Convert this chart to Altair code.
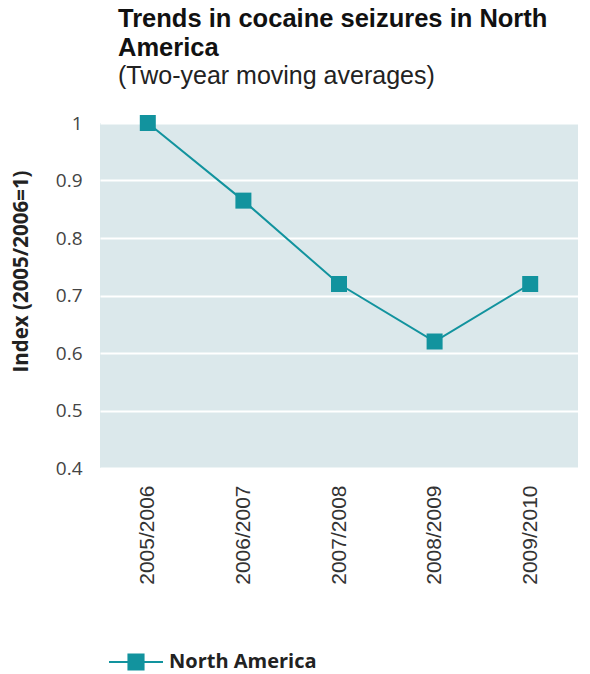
import altair as alt
import pandas as pd

# Two-year periods and the seizure index (2005/2006 = 1)
periods = ["2005/2006", "2006/2007", "2007/2008", "2008/2009", "2009/2010"]
index_values = [1.0, 0.865, 0.72, 0.62, 0.72]
series_name = ["North America"] * len(periods)

y_ticks = [0.4, 0.5, 0.6, 0.7, 0.8, 0.9, 1.0]

df = pd.DataFrame({"period": periods, "index": index_values, "region": series_name})

teal = "#12939e"

# legend glyph: a short line with a square in the middle
legend_glyph = "M-1,0H-0.28M0.28,0H1M-0.28,-0.28H0.28V0.28H-0.28Z"

x_enc = alt.X(
    "period:N",
    sort=periods,
    scale=alt.Scale(type="point", padding=0.5),
    axis=alt.Axis(
        title=None,
        labelAngle=270,
        labelAlign="right",
        labelBaseline="middle",
        labelPadding=17,
        labelFont="Liberation Sans",
        labelFontSize=21,
        labelColor="#333333",
        domain=False,
        ticks=False,
        grid=False,
    ),
)

y_enc = alt.Y(
    "index:Q",
    scale=alt.Scale(domain=[0.4, 1.0], nice=False, zero=False),
    axis=alt.Axis(
        title="Index (2005/2006=1)",
        titleFont="Open Sans",
        titleFontSize=20.5,
        titleFontWeight="bold",
        titleColor="#222222",
        titlePadding=24,
        titleY=148,
        values=y_ticks,
        labelExpr="format(datum.value, '')",
        labelFont="Open Sans",
        labelFontSize=19,
        labelColor="#444444",
        labelPadding=18,
        domain=False,
        ticks=False,
        grid=True,
        gridColor="#ffffff",
        gridWidth=2,
    ),
)

color_enc = alt.Color(
    "region:N",
    scale=alt.Scale(range=[teal]),
    legend=alt.Legend(
        title=None,
        orient="none",
        legendX=8,
        legendY=511,
        symbolType=legend_glyph,
        symbolSize=2916,
        symbolStrokeWidth=2,
        symbolFillColor=teal,
        symbolStrokeColor=teal,
        labelFont="Open Sans",
        labelFontSize=20,
        labelFontWeight="bold",
        labelColor="#222222",
        labelOffset=5,
    ),
)

base = alt.Chart(df).encode(x=x_enc, y=y_enc, color=color_enc)

line = base.mark_line(strokeWidth=2)
points = base.mark_point(shape="square", filled=True, size=256, opacity=1)

chart = (
    alt.layer(line, points)
    .properties(
        width=478,
        height=345,
        autosize=alt.AutoSizeParams(type="none"),
        padding={"left": 100, "top": 123, "right": 12, "bottom": 206},
        title=alt.TitleParams(
            text=["Trends in cocaine seizures in North", "America"],
            subtitle="(Two-year moving averages)",
            anchor="start",
            frame="group",
            dx=18,
            offset=25,
            font="Liberation Sans",
            fontSize=25.5,
            fontWeight="bold",
            color="#111111",
            lineHeight=29,
            subtitleFont="Liberation Sans",
            subtitleFontSize=25,
            subtitleColor="#222222",
            subtitlePadding=3,
        ),
    )
    .configure_view(fill="#dbe8eb", stroke=None)
)

chart.save("out.html", embed_options={"renderer": "svg", "actions": False})
